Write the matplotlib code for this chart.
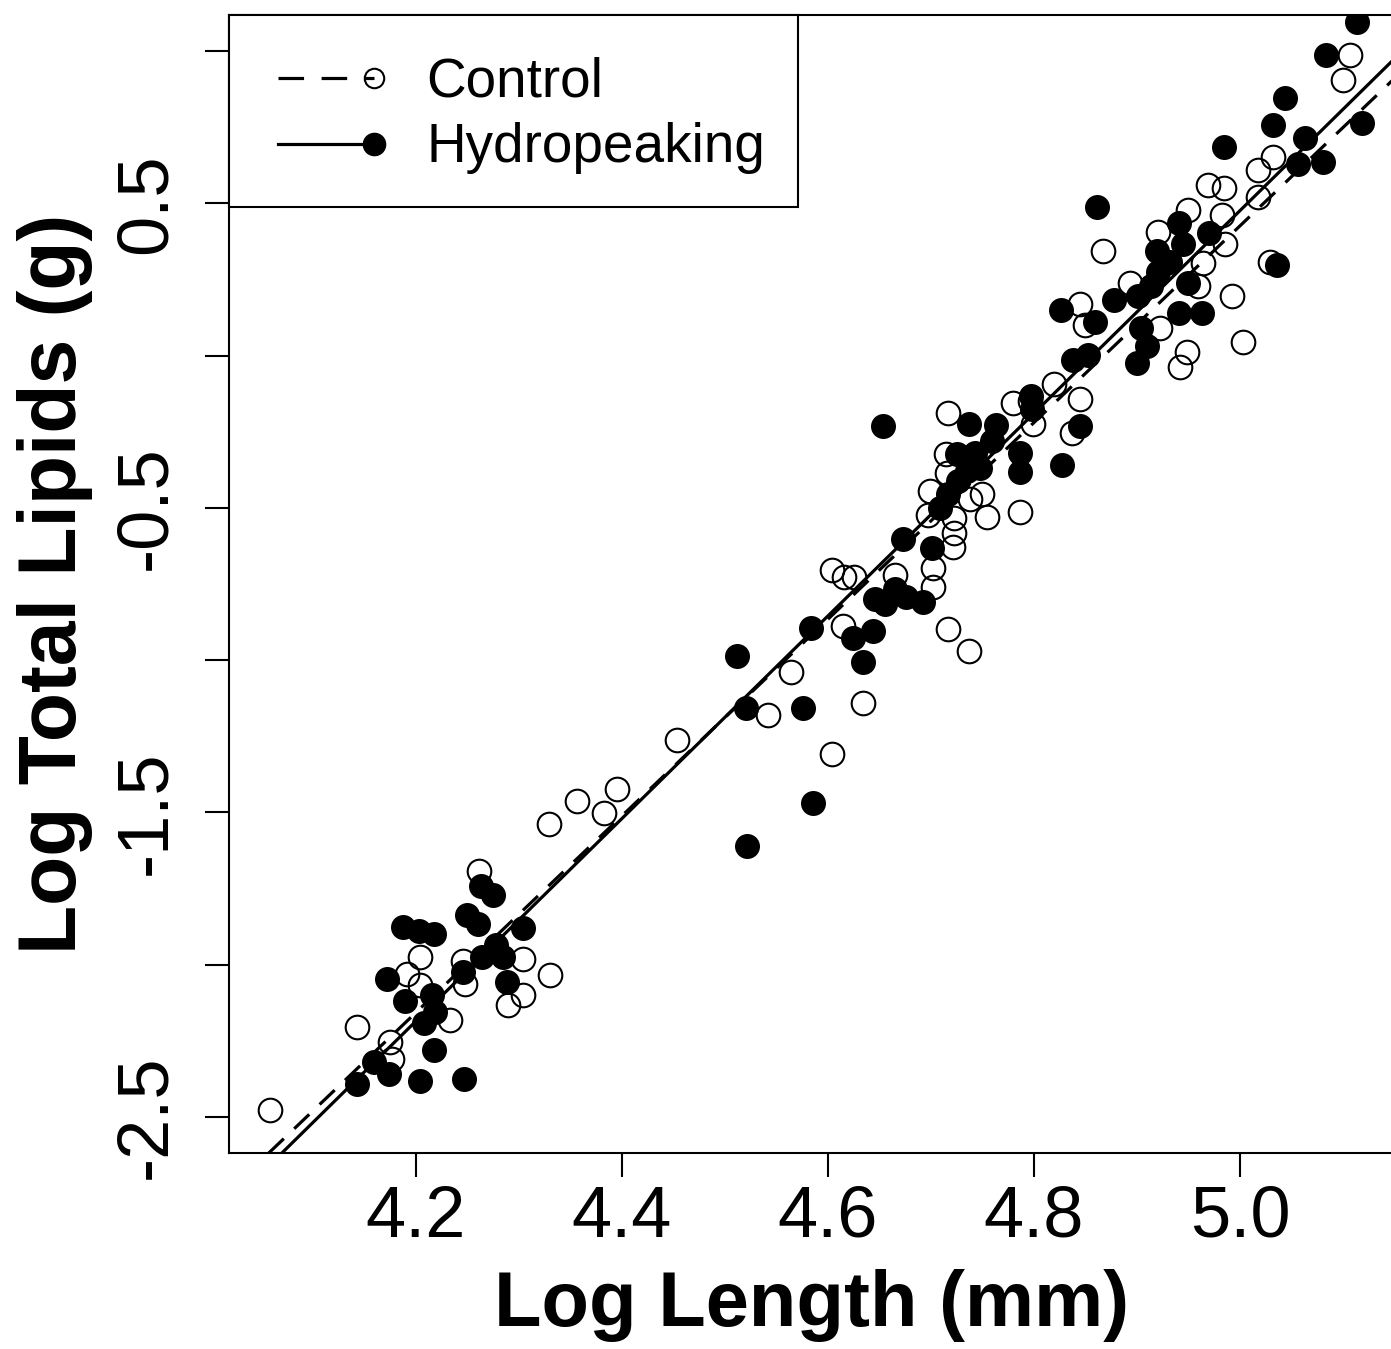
import numpy as np
import matplotlib
matplotlib.use("Agg")
import matplotlib.pyplot as plt
from matplotlib.legend_handler import HandlerLine2D
from matplotlib.lines import Line2D

plt.rcParams['font.family'] = ['Liberation Sans', 'DejaVu Sans']

#------------------------------------------------------------
# Data: log length (mm) vs log total lipids (g)
control_x = [4.058, 4.143, 4.175, 4.177, 4.204, 4.191, 4.204, 4.261, 4.246,
             4.248, 4.304, 4.330, 4.304, 4.289, 4.233, 4.329, 4.356, 4.383,
             4.395, 4.453, 4.542, 4.564, 4.604, 4.634, 4.717, 4.737, 4.615,
             4.604, 4.616, 4.625, 4.702, 4.702, 4.721, 4.665, 4.717, 4.786,
             4.754, 4.699, 4.697, 4.722, 4.722, 4.715, 4.716, 4.738, 4.750,
             4.780, 4.845, 4.837, 4.796, 4.799, 4.867, 4.992, 5.003, 4.949,
             4.942, 4.969, 4.984, 4.950, 4.983, 4.920, 4.985, 4.964, 4.959,
             4.893, 4.845, 4.850, 4.922, 4.819, 5.029, 5.100, 5.107, 5.032,
             5.017, 5.017]
control_y = [-2.477, -2.204, -2.253, -2.309, -1.974, -2.030, -2.066, -1.691,
             -1.987, -2.062, -1.980, -2.033, -2.099, -2.132, -2.181, -1.539,
             -1.461, -1.503, -1.424, -1.263, -1.181, -1.039, -1.309, -1.141,
             -0.898, -0.970, -0.888, -0.704, -0.727, -0.727, -0.697, -0.760,
             -0.628, -0.720, -0.187, -0.513, -0.530, -0.444, -0.523, -0.533,
             -0.582, -0.322, -0.385, -0.470, -0.454, -0.155, -0.141, -0.253,
             -0.148, -0.224, 0.342, 0.197, 0.043, 0.013, -0.039, 0.559, 0.549,
             0.477, 0.461, 0.405, 0.368, 0.303, 0.230, 0.237, 0.168, 0.099,
             0.092, -0.092, 0.306, 0.905, 0.987, 0.651, 0.609, 0.520]

hydro_x = [4.143, 4.159, 4.174, 4.204, 4.247, 4.218, 4.208, 4.219, 4.216,
           4.189, 4.172, 4.187, 4.203, 4.218, 4.250, 4.260, 4.263, 4.275,
           4.304, 4.246, 4.264, 4.278, 4.285, 4.288, 4.512, 4.520, 4.576,
           4.585, 4.521, 4.584, 4.634, 4.624, 4.644, 4.646, 4.655, 4.665,
           4.676, 4.692, 4.673, 4.701, 4.653, 4.737, 4.763, 4.797, 4.845,
           4.827, 4.786, 4.786, 4.725, 4.743, 4.759, 4.735, 4.748, 4.726,
           4.717, 4.709, 4.861, 5.036, 4.826, 4.859, 4.878, 4.838, 4.852,
           4.900, 4.910, 4.904, 4.941, 4.963, 4.941, 4.970, 4.919, 4.945,
           4.920, 4.950, 4.914, 4.901, 5.044, 5.032, 4.984, 5.063, 5.056,
           5.081, 5.118, 5.083, 5.114, 4.932, 4.798]
hydro_y = [-2.391, -2.319, -2.358, -2.382, -2.375, -2.280, -2.191, -2.155,
           -2.099, -2.118, -2.046, -1.875, -1.888, -1.898, -1.836, -1.865,
           -1.743, -1.770, -1.878, -2.023, -1.974, -1.934, -1.974, -2.056,
           -0.987, -1.158, -1.158, -1.470, -1.609, -0.895, -1.007, -0.928,
           -0.905, -0.799, -0.816, -0.766, -0.793, -0.809, -0.602, -0.632,
           -0.230, -0.224, -0.227, -0.132, -0.230, -0.359, -0.319, -0.382,
           -0.322, -0.319, -0.280, -0.378, -0.368, -0.411, -0.454, -0.500,
           0.487, 0.296, 0.151, 0.109, 0.184, -0.016, 0.003, -0.023, 0.033,
           0.092, 0.141, 0.141, 0.434, 0.401, 0.345, 0.365, 0.276, 0.237,
           0.227, 0.194, 0.845, 0.757, 0.684, 0.714, 0.628, 0.635, 0.763,
           0.987, 1.095, 0.306, -0.174]

# fitted regression lines (intercept, slope)
control_fit = (-15.719, 3.229)
hydro_fit = (-16.159, 3.327)

yticks = [1.0, 0.5, 0.0, -0.5, -1.0, -1.5, -2.0, -2.5]
ytick_labels = ['', '0.5', '', '-0.5', '', '-1.5', '', '-2.5']
xticks = [4.2, 4.4, 4.6, 4.8, 5.0]
xtick_labels = ['4.2', '4.4', '4.6', '4.8', '5.0']


class HandlerEndMarker(HandlerLine2D):
    """legend handle: line with the marker at its right end"""
    def create_artists(self, legend, orig_handle, xdescent, ydescent,
                       width, height, fontsize, trans):
        x0 = -xdescent + 0.12 * width
        x1 = -xdescent + 0.82 * width
        y = height / 2. - ydescent
        line = Line2D([x0, x1], [y, y])
        self.update_prop(line, orig_handle, legend)
        line.set_marker('None')
        mark = Line2D([x1], [y])
        self.update_prop(mark, orig_handle, legend)
        mark.set_linestyle('None')
        line.set_transform(trans)
        mark.set_transform(trans)
        return [line, mark]


#------------------------------------------------------------
# Plot
fig = plt.figure(figsize=(13.91, 13.49), dpi=100)
ax = fig.add_axes([0.1646, 0.1453, 0.8383, 0.8436])

ax.plot(hydro_x, hydro_y, 'o', color='k', ms=18, mew=0, zorder=2)
ax.plot(control_x, control_y, 'o', mfc='none', mec='k', ms=17, mew=1.5,
        zorder=3)

ax.axline((0, control_fit[0]), slope=control_fit[1], color='k', lw=2.3,
          ls=(0, (6.5, 4.5)), zorder=4)
ax.axline((0, hydro_fit[0]), slope=hydro_fit[1], color='k', lw=2.3,
          ls='-', zorder=4)

ax.set_xlim(4.0185, 5.1505)
ax.set_ylim(-2.6184, 1.1184)

ax.set_xticks(xticks)
ax.set_xticklabels(xtick_labels)
ax.set_yticks(yticks)
ax.set_yticklabels(ytick_labels)
ax.tick_params(length=17, width=1.5, labelsize=52, direction='out')
ax.tick_params(axis='x', pad=6)
ax.tick_params(axis='y', pad=18)
plt.setp(ax.get_yticklabels(), rotation=90, va='center')
for s in ax.spines.values():
    s.set_linewidth(1.5)

ax.set_xlabel('Log Length (mm)', fontsize=56, fontweight='bold', va='center')
ax.set_ylabel('Log Total Lipids (g)', fontsize=58, fontweight='bold',
              va='center')
ax.xaxis.set_label_coords(0.5, -0.1336)
ax.yaxis.set_label_coords(-0.149, 0.5)

h_ctrl = Line2D([], [], color='k', lw=2.3, ls=(0, (8, 5.5)), marker='o',
                mfc='none', mec='k', ms=14, mew=1.5)
h_hydro = Line2D([], [], color='k', lw=2.3, ls='-', marker='o', mfc='k',
                 mec='k', ms=16)
leg = ax.legend([h_ctrl, h_hydro], ['Control', 'Hydropeaking'],
                loc='upper left', bbox_to_anchor=(0, 1), borderaxespad=0,
                fontsize=39.5, frameon=True, fancybox=False, framealpha=1,
                edgecolor='k', handlelength=2.51, handletextpad=0.5,
                handleheight=1.37, borderpad=0.59, labelspacing=0.055,
                handler_map={Line2D: HandlerEndMarker()})
leg.get_frame().set_linewidth(1.5)

fig.savefig('out.png', dpi=100)
